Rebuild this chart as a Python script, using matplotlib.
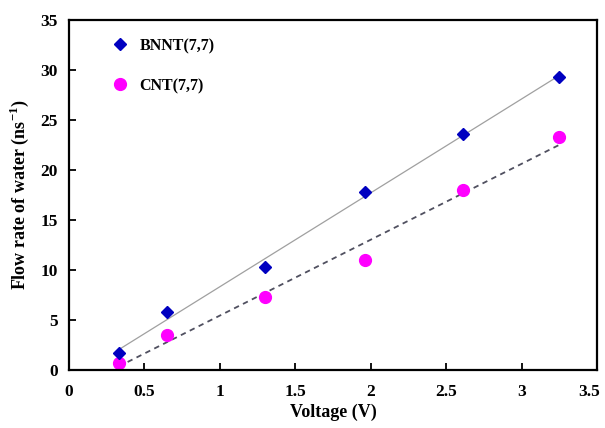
import numpy as np
import matplotlib
matplotlib.use("Agg")
import matplotlib.pyplot as plt
from matplotlib.transforms import ScaledTranslation

plt.rcParams['font.family'] = ['Liberation Serif', 'DejaVu Serif']
plt.rcParams['font.weight'] = 'bold'
plt.rcParams['mathtext.fontset'] = 'custom'
plt.rcParams['mathtext.rm'] = 'Liberation Serif:bold'
plt.rcParams['mathtext.bf'] = 'Liberation Serif:bold'

# data
voltage = [0.33, 0.65, 1.30, 1.96, 2.61, 3.25]
bnnt = [1.7, 5.8, 10.3, 17.8, 23.6, 29.3]
cnt = [0.7, 3.5, 7.3, 11.0, 18.0, 23.3]

fig = plt.figure(figsize=(6.05, 4.28), dpi=100)
ax = fig.add_axes([0.114, 0.1355, 0.873, 0.8175])

x = np.array(voltage)
xs = np.array([x.min(), x.max()])

# linear trend lines
p1 = np.polyfit(x, bnnt, 1)
p2 = np.polyfit(x, cnt, 1)
ax.plot(xs, np.polyval(p1, xs), color='#a0a0a0', lw=0.9, zorder=1)
ax.plot(xs, np.polyval(p2, xs), color='#505060', lw=1.3, ls=(0, (3, 2.5)), zorder=1)

ax.plot(voltage, bnnt, ls='none', marker='D', color='#0000c0', ms=6, label='BNNT(7,7)', zorder=3)
ax.plot(voltage, cnt, ls='none', marker='o', color='#ff00ff', ms=8.5, label='CNT(7,7)', zorder=2)

ax.set_xlim(0, 3.5)
ax.set_ylim(0, 35)
ax.set_xticks(np.arange(0, 3.51, 0.5))
ax.set_xticklabels(['0', '0.5', '1', '1.5', '2', '2.5', '3', '3.5'])
ax.set_yticks(np.arange(0, 36, 5))
ax.tick_params(direction='in', length=5, width=1.3, labelsize=12.5, pad=10)
ax.tick_params(axis='y', pad=8)
# nudge last label so it stays inside the figure
last = ax.get_xticklabels()[-1]
last.set_transform(last.get_transform() + ScaledTranslation(-6 / 72, 0, fig.dpi_scale_trans))
for s in ax.spines.values():
    s.set_linewidth(1.6)

ax.set_xlabel('Voltage (V)', fontsize=13, fontweight='bold', labelpad=3)
ax.set_ylabel(r'Flow rate of water (ns$^{-1}$)', fontsize=13, fontweight='bold', labelpad=7)

ax.legend(frameon=False, loc='upper left', bbox_to_anchor=(0.052, 0.99),
          labelspacing=1.5, handletextpad=0.6, handlelength=1.2,
          prop={'size': 11.5, 'weight': 'bold'})

fig.savefig('out.png', dpi=100)
